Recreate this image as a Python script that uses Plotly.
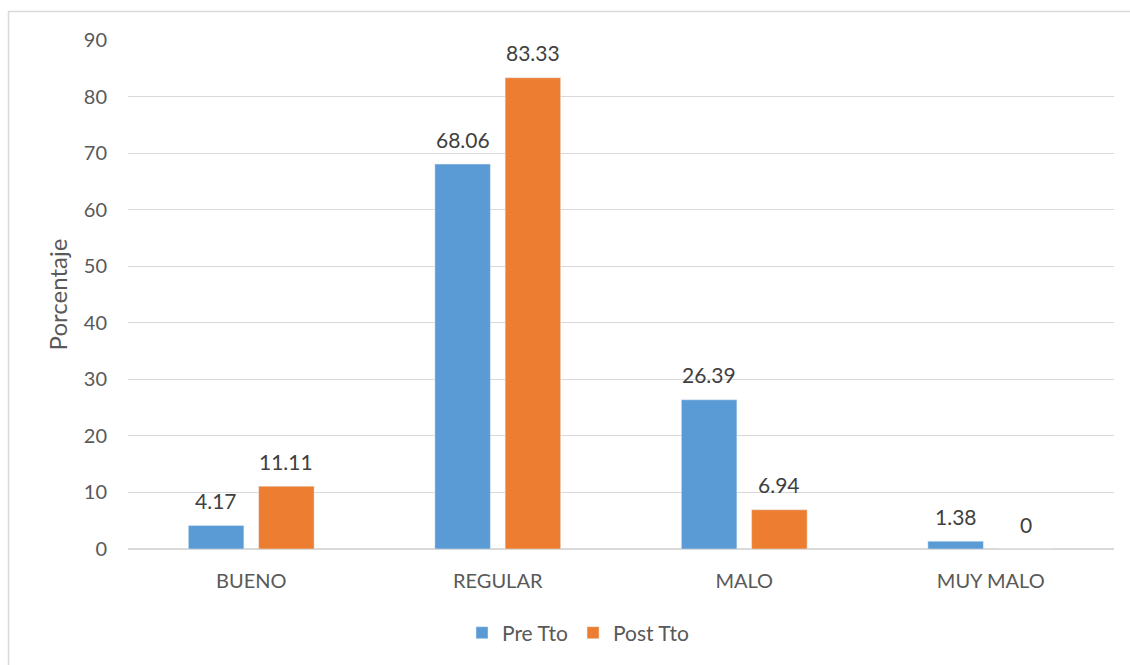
import plotly.graph_objects as go

categories = ["BUENO", "REGULAR", "MALO", "MUY MALO"]
pre_tto = [4.17, 68.06, 26.39, 1.38]
post_tto = [11.11, 83.33, 6.94, 0]
y_ticks = [0, 10, 20, 30, 40, 50, 60, 70, 80, 90]

FONT = "Lato, 'Open Sans', sans-serif"
W, H = 1130, 665
ML, MR, MT, MB = 128, 16, 40, 116
pw, ph = W - ML - MR, H - MT - MB

BLUE, ORANGE = "#5b9bd5", "#ed7d31"
LABEL_COLOR = "#404040"
AXIS_COLOR = "#595959"
GRID_COLOR = "#d9d9d9"

BARGAP, BARGROUPGAP = 0.43, 0.21


def px_x(p):
    return (p - ML) / pw


def px_y(p):
    return (H - MB - p) / ph


fig = go.Figure()
series = [("Pre Tto", pre_tto, BLUE), ("Post Tto", post_tto, ORANGE)]
for name, vals, color in series:
    fig.add_trace(go.Bar(name=name, x=categories, y=vals, marker_color=color))

# value labels above each bar, offset to the bar's slot within the group
slot_px = pw / len(categories) * (1 - BARGAP) / len(series)
for k, (name, vals, color) in enumerate(series):
    dx = (k - (len(series) - 1) / 2) * slot_px
    for cat, v in zip(categories, vals):
        fig.add_annotation(
            x=cat, y=v, text=f"{v:g}", showarrow=False,
            xshift=dx, yshift=25, yanchor="middle", xanchor="center",
            font=dict(size=21, color=LABEL_COLOR, family=FONT),
        )

fig.update_layout(
    width=W, height=H,
    margin=dict(l=ML, r=MR, t=MT, b=MB, autoexpand=False),
    paper_bgcolor="white", plot_bgcolor="white",
    barmode="group", bargap=BARGAP, bargroupgap=BARGROUPGAP,
    font=dict(family=FONT, color=AXIS_COLOR, size=20),
    legend=dict(
        orientation="h", x=px_x(578), xanchor="center", y=px_y(633), yanchor="middle",
        font=dict(size=21, color=AXIS_COLOR), traceorder="normal",
    ),
    showlegend=True,
)
fig.update_xaxes(
    showgrid=False, showline=True, linecolor=GRID_COLOR, linewidth=1,
    tickfont=dict(size=20, color=AXIS_COLOR), ticks="", ticklabelstandoff=14,
)
fig.update_yaxes(
    range=[0, 90], tickvals=y_ticks, showgrid=True, gridcolor=GRID_COLOR,
    gridwidth=1, zeroline=True, zerolinecolor=GRID_COLOR, showline=False,
    tickfont=dict(size=20, color=AXIS_COLOR), ticklabelstandoff=20,
    title=dict(text="Porcentaje", font=dict(size=24, color=AXIS_COLOR), standoff=9),
)

# chart frame
fig.add_shape(
    type="rect", xref="paper", yref="paper",
    x0=px_x(8.5), x1=px_x(1133), y0=px_y(668), y1=px_y(11.5),
    line=dict(color=GRID_COLOR, width=1.5), fillcolor="rgba(0,0,0,0)", layer="below",
)

fig.write_html("out.html")
